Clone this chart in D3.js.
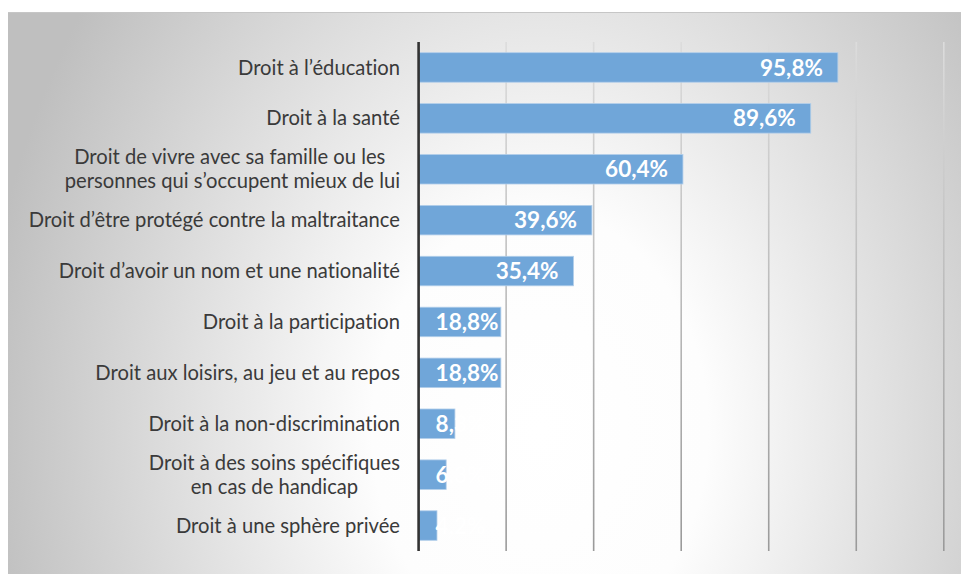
<!DOCTYPE html>
<html><head><meta charset="utf-8">
<script src="https://cdn.jsdelivr.net/npm/d3@7/dist/d3.min.js"></script>
<style>html,body{margin:0;padding:0;background:#fff;}svg{display:block;}text{font-variant-ligatures:none;font-feature-settings:"liga" 0,"clig" 0;}</style>
</head><body>
<script>
const categories = [
  ["Droit à l’éducation"],
  ["Droit à la santé"],
  ["Droit de vivre avec sa famille ou les\u00a0", "personnes qui s’occupent mieux de lui"],
  ["Droit d’être protégé contre la maltraitance"],
  ["Droit d’avoir un nom et une nationalité"],
  ["Droit à la participation"],
  ["Droit aux loisirs, au jeu et au repos"],
  ["Droit à la non-discrimination"],
  ["Droit à des soins spécifiques", "en cas de handicap"],
  ["Droit à une sphère privée"]
];
const values = [95.8, 89.6, 60.4, 39.6, 35.4, 18.8, 18.8, 8.3, 6.3, 4.2];
const ticks = [0, 20, 40, 60, 80, 100, 120];

const W = 961, H = 574;
const svg = d3.select("body").append("svg").attr("width", W).attr("height", H);
const defs = svg.append("defs");
const rg = defs.append("radialGradient").attr("id", "bg")
  .attr("gradientUnits", "userSpaceOnUse")
  .attr("cx", 540).attr("cy", 430).attr("r", 560).attr("fx", 540).attr("fy", 430)
  .attr("gradientTransform", "translate(540,430) scale(1,1.3) translate(-540,-430)");
rg.append("stop").attr("offset", "0").attr("stop-color", "#ffffff");
rg.append("stop").attr("offset", "0.3").attr("stop-color", "#fdfdfd");
rg.append("stop").attr("offset", "1").attr("stop-color", "#bfbfbf");
const lg = defs.append("linearGradient").attr("id", "grid")
  .attr("gradientUnits", "userSpaceOnUse").attr("x1", 0).attr("y1", 42).attr("x2", 0).attr("y2", 551);
lg.append("stop").attr("offset", "0").attr("stop-color", "#dcdcdc");
lg.append("stop").attr("offset", "1").attr("stop-color", "#9a9a9a");

svg.append("rect").attr("x", 8).attr("y", 12).attr("width", W - 8).attr("height", H - 12)
  .attr("fill", "url(#bg)");
svg.append("line").attr("x1", 8).attr("x2", W).attr("y1", 12.5).attr("y2", 12.5)
  .attr("stroke", "#c6c6c6").attr("stroke-width", 1);

const x = d3.scaleLinear().domain([0, 120]).range([418.6, 943.8]);
const y = d3.scaleBand().domain(d3.range(categories.length)).range([42, 551])
  .paddingInner(0.42).paddingOuter(0.21);

// gridlines
svg.append("g").selectAll("line").data(ticks.slice(1)).join("line")
  .attr("x1", d => x(d)).attr("x2", d => x(d)).attr("y1", 42).attr("y2", 551)
  .attr("stroke", "url(#grid)").attr("stroke-width", 1.6);

// bars
svg.append("g").selectAll("rect").data(values).join("rect")
  .attr("x", x(0)).attr("y", (d, i) => y(i))
  .attr("width", d => x(d) - x(0)).attr("height", y.bandwidth())
  .attr("fill", "#70a6d9").attr("stroke", "#b3cfea").attr("stroke-width", 0.8);

// axis line
svg.append("line").attr("x1", x(0)).attr("x2", x(0)).attr("y1", 42).attr("y2", 551)
  .attr("stroke", "#333333").attr("stroke-width", 2.6);

// value labels
const vl = svg.append("g").selectAll("text").data(values).join("text")
  .attr("y", (d, i) => y(i) + y.bandwidth() / 2)
  .attr("dy", "0.36em")
  .attr("fill", "#ffffff")
  .attr("font-family", "Lato, 'Open Sans', sans-serif")
  .attr("font-weight", "bold")
  .attr("font-size", 22.5)
  .attr("text-anchor", "start")
  .text(d => d.toFixed(1).replace(".", ",") + "%");
vl.each(function(d) {
  const w = this.getComputedTextLength();
  const left = Math.max(x(d) - 15 - w, x(0) + 17);
  d3.select(this).attr("x", left);
});

// category labels
const cg = svg.append("g");
categories.forEach((lines, i) => {
  const cy = y(i) + y.bandwidth() / 2;
  const lh = 24;
  const t = cg.append("text")
    .attr("font-family", "Lato, 'Open Sans', sans-serif")
    .attr("font-size", 20.2)
    .attr("fill", "#3a3a3a")
    .attr("text-anchor", "middle");
  const tsp = lines.map((s, k) => t.append("tspan").attr("y", cy + (k - (lines.length - 1) / 2) * lh).attr("dy", "0.35em").text(s));
  const widths = tsp.map(s => s.node().getComputedTextLength());
  const maxW = Math.max(...widths);
  const centerX = 400 - maxW / 2;
  tsp.forEach(s => s.attr("x", centerX));
});
</script>
</body></html>
